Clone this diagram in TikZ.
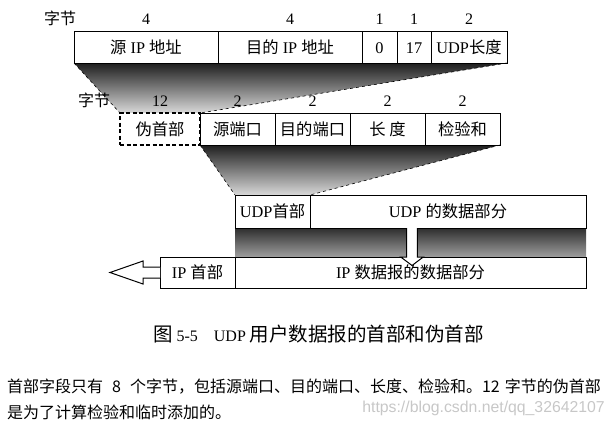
\documentclass[tikz,border=0pt]{standalone}
\usepackage{fontspec}
\setmainfont{Liberation Serif}
\newfontfamily\cjk{Noto Sans CJK SC}
\newfontfamily\webfont{Liberation Sans}
\usetikzlibrary{positioning, calc, backgrounds}
\newcommand{\zh}[1]{{\cjk #1}}
\newcommand{\zhcap}[1]{{\cjk\fontsize{19.5}{22}\selectfont #1}}

\begin{document}
\begin{tikzpicture}[x=1pt, y=-1pt,
  field/.style={draw, line width=1pt, fill=white, minimum height=32pt,
                inner sep=0pt, outer sep=0pt, font=\fontsize{16.3}{19}\selectfont,
                text height=12pt, text depth=0pt},
  pseudobox/.style={field, dash pattern=on 4pt off 2.5pt, line width=1.2pt},
  lbl/.style={inner sep=0pt, font=\fontsize{16}{19}\selectfont,
              text height=11.5pt, text depth=0pt},
  fan/.style={top color=black!88, bottom color=black!15},
  band/.style={top color=black!82, bottom color=black!38},
  edge/.style={dashed, line width=0.6pt},
  hollow/.style={draw, line width=1pt, fill=white, line join=miter},
  caption/.style={font=\fontsize{16}{20}\selectfont, inner sep=0pt},
  body/.style={font=\cjk\fontsize{16}{20}\selectfont, inner sep=0pt, anchor=west}]
\useasboundingbox (0,0) rectangle (616,426);

% Row 1: pseudo header fields
\node[field, minimum width=144pt, anchor=north west] (srcip) at (74,31) {\zh{源} IP \zh{地址}};
\node[field, minimum width=144pt, right=0pt of srcip] (dstip) {\zh{目的} IP \zh{地址}};
\node[field, minimum width=35pt, right=0pt of dstip] (zero) {0};
\node[field, minimum width=34pt, right=0pt of zero] (proto) {17};
\node[field, minimum width=76pt, right=0pt of proto] (udplen) {UDP\zh{长度}};
\node[lbl] (unit1) at (60,19) {\zh{字节}};
\foreach \f/\n in {srcip/4, dstip/4, zero/1, proto/1, udplen/2}
  \node[lbl] (b-\f) at ([yshift=12.5pt]\f.north) {\n};

% Row 2: UDP header (with pseudo header)
\node[pseudobox, minimum width=80pt, anchor=north west] (pseudo) at (120,113) {\zh{伪首部}};
\node[field, minimum width=75pt, right=0pt of pseudo] (sport) {\zh{源端口}};
\node[field, minimum width=75pt, right=0pt of sport] (dport) {\zh{目的端口}};
\node[field, minimum width=75pt, right=0pt of dport] (ulen) {\zh{长 度}};
\node[field, minimum width=75pt, right=0pt of ulen] (csum) {\zh{检验和}};
\node[lbl] (unit2) at (94,101) {\zh{字节}};
\foreach \f/\n in {pseudo/12, sport/2, dport/2, ulen/2, csum/2}
  \node[lbl] (b-\f) at ([yshift=12pt]\f.north) {\n};

% Row 3: UDP datagram
\node[field, minimum width=75pt, minimum height=33pt, anchor=north west] (uhdr) at (235,195) {UDP\zh{首部}};
\node[field, minimum width=276pt, minimum height=33pt, right=0pt of uhdr] (udata) {UDP \zh{的数据部分}};

% Row 4: IP datagram
\node[field, minimum width=75pt, minimum height=31pt, anchor=north west] (iphdr) at (160,257) {IP \zh{首部}};
\node[field, minimum width=351pt, minimum height=31pt, right=0pt of iphdr] (ipdata) {IP \zh{数据报的数据部分}};

% Shaded fans behind the rows
\begin{scope}[on background layer]
  \shade[fan] (srcip.south west) -- (udplen.south east) -- (pseudo.north east) -- (pseudo.north west) -- cycle;
  \shade[fan] (sport.south west) -- (csum.south east) -- (uhdr.north east) -- (uhdr.north west) -- cycle;
  \shade[band] (uhdr.south west) rectangle (ipdata.north east);
\end{scope}
\draw[edge] (srcip.south west) -- (pseudo.north west);
\draw[edge] (udplen.south east) -- (pseudo.north east);
\draw[edge] (sport.south west) -- (uhdr.north west);
\draw[edge] (csum.south east) -- (uhdr.north east);

% Hollow arrows
\coordinate (dn) at (412,228);
\draw[hollow] (dn) ++(-5.3,0) -- ++(0,29) -- ++(-6,0) -- ++(11.3,8.5)
  -- ++(11.3,-8.5) -- ++(-6,0) -- ++(0,-29);
\draw[hollow] ([yshift=5.5pt]iphdr.west) -- ++(-17,0) -- ++(0,-6) -- ++(-33,11.5)
  -- ++(33,11.5) -- ++(0,-6) -- ++(17,0);

% Caption and text
\node[caption] (cap) at (318.5,334) {\zhcap{图} 5-5\quad UDP \zhcap{用户数据报的首部和伪首部}};
\node[body] (txt1) at (7,387) {首部字段只有\hspace{9pt}8\hspace{9pt}个字节，包括源端口、目的端口、长度、检验和。12\hspace{5pt}字节的伪首部};
\node[body] (txt2) at (7,412) {是为了计算检验和临时添加的。};
\node[font=\webfont\fontsize{15.8}{18}\selectfont, text=black!22, inner sep=0pt,
      anchor=east] (mark) at (605,408) {https://blog.csdn.net/qq\_32642107};
\end{tikzpicture}
\end{document}
